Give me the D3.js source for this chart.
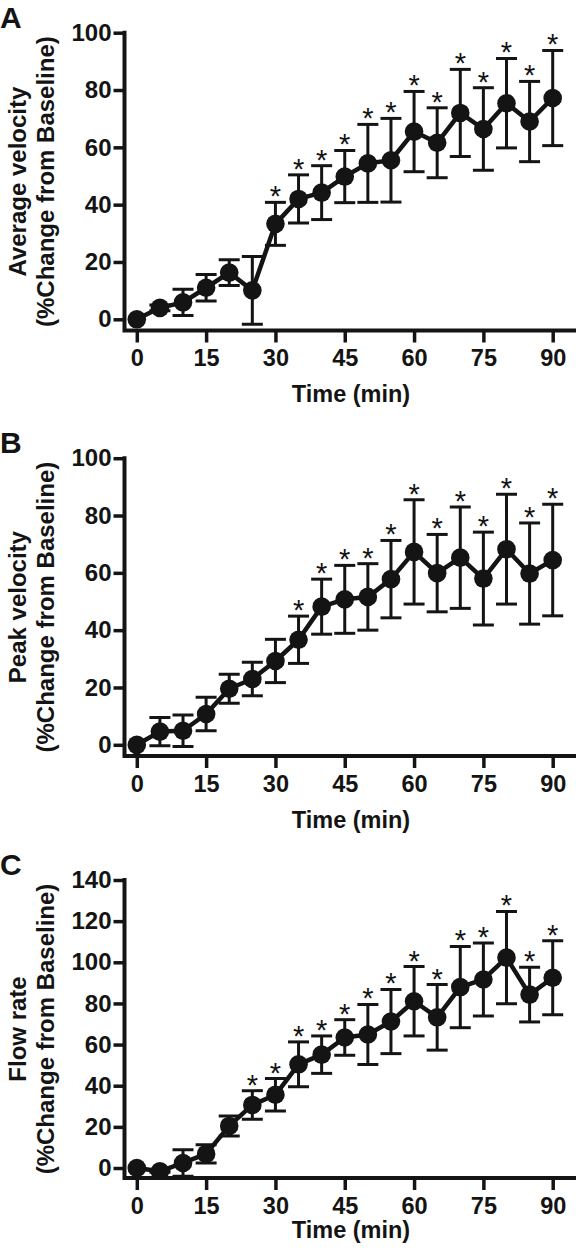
<!DOCTYPE html>
<html>
<head>
<meta charset="utf-8">
<script src="https://cdn.jsdelivr.net/npm/d3@7"></script>
<style>
  html, body { margin: 0; padding: 0; background: #fff; }
  svg { display: block; }
  text { font-family: "Liberation Sans", Arial, Helvetica, sans-serif; fill: #141414; }
</style>
</head>
<body>
<svg id="chart" width="576" height="1255"></svg>
<script>
// ---------- data ----------
const times = [0, 5, 10, 15, 20, 25, 30, 35, 40, 45, 50, 55, 60, 65, 70, 75, 80, 85, 90];
const xTicks = [0, 15, 30, 45, 60, 75, 90];

const avgMean = [0, 4, 5.9, 11, 16.3, 10.1, 33.3, 42, 44.2, 49.8, 54.4, 55.5, 65.5, 61.6, 72, 66.4, 75.4, 69, 77.2];
const avgSem  = [0, 1, 4.6, 4.6, 4.5, 11.8, 7.5, 8.4, 9.4, 9.1, 13.6, 14.6, 14, 12.2, 15.2, 14.4, 15.6, 14, 16.6];
const avgStars = [30, 35, 40, 45, 50, 55, 60, 65, 70, 75, 80, 85, 90];
const avgTicks = [0, 20, 40, 60, 80, 100];

const peakMean = [0, 4.6, 4.9, 10.75, 19.55, 22.95, 29.25, 36.65, 48.2, 50.75, 51.6, 57.8, 67.3, 59.9, 65.3, 58, 68.25, 59.75, 64.45];
const peakSem  = [0, 4.9, 5.5, 5.85, 5.05, 5.85, 7.55, 8.25, 9.6, 11.85, 11.6, 13.5, 18.2, 13.5, 17.7, 16.2, 19.15, 17.65, 19.45];
const peakStars = [35, 40, 45, 50, 55, 60, 65, 70, 75, 80, 85, 90];
const peakTicks = [0, 20, 40, 60, 80, 100];

const flowMean = [0, -1.6, 2.45, 6.85, 20.45, 30.65, 35.6, 50.4, 55.1, 63.45, 64.9, 71.2, 81.05, 73.25, 87.95, 91.65, 102.25, 84.3, 92.5];
const flowSem  = [0, 0.5, 6.45, 4.45, 4.85, 6.95, 7.9, 10.9, 9.1, 8.65, 14.6, 15.6, 16.85, 15.95, 19.75, 17.75, 22.45, 13.3, 18];
const flowStars = [25, 30, 35, 40, 45, 50, 55, 60, 65, 70, 75, 80, 85, 90];
const flowTicks = [0, 20, 40, 60, 80, 100, 120, 140];

const letters = ["A", "B", "C"];
const yLabels1 = ["Average velocity", "Peak velocity", "Flow rate"];
const yLabel2 = "(%Change from Baseline)";
const xLabel = "Time (min)";

// ---------- layout ----------
const INK = "#141414";
const yAxisX = 124.5;
const xRight = 574;
const x = d3.scaleLinear().domain([0, 90]).range([136.8, 552.7]);

const panels = [
  { letter: letters[0], mean: avgMean, sem: avgSem, stars: avgStars, ticks: avgTicks, label1: yLabels1[0],
    top: 32.7, zero: 319.3, axis: 330.5, timeY: 402 },
  { letter: letters[1], mean: peakMean, sem: peakSem, stars: peakStars, ticks: peakTicks, label1: yLabels1[1],
    top: 458.2, zero: 744.8, axis: 756, timeY: 828 },
  { letter: letters[2], mean: flowMean, sem: flowSem, stars: flowStars, ticks: flowTicks, label1: yLabels1[2],
    top: 880, zero: 1168, axis: 1178, timeY: 1238 }
];

const svg = d3.select("#chart");
const defs = svg.append("defs");

panels.forEach((p, i) => {
  const yMax = p.ticks[p.ticks.length - 1];
  const y = d3.scaleLinear().domain([0, yMax]).range([p.zero, p.top]);
  const g = svg.append("g");

  const clipId = "clip" + i;
  defs.append("clipPath").attr("id", clipId)
    .append("rect")
    .attr("x", yAxisX).attr("y", p.top - 80)
    .attr("width", 576 - yAxisX).attr("height", p.axis - (p.top - 80));

  const data = times.map((t, k) => ({ t, m: p.mean[k], s: p.sem[k] }));
  const marks = g.append("g").attr("clip-path", `url(#${clipId})`);

  // error bars
  const eb = marks.append("g").attr("stroke", INK).attr("stroke-width", 3).attr("fill", "none");
  data.filter(d => d.s > 0).forEach(d => {
    const cx = x(d.t), y1 = y(d.m + d.s), y2 = y(d.m - d.s);
    eb.append("line").attr("x1", cx).attr("x2", cx).attr("y1", y1).attr("y2", y2);
    eb.append("line").attr("x1", cx - 10.5).attr("x2", cx + 10.5).attr("y1", y1).attr("y2", y1);
    eb.append("line").attr("x1", cx - 10.5).attr("x2", cx + 10.5).attr("y1", y2).attr("y2", y2);
  });

  // connecting line
  marks.append("path")
    .datum(data)
    .attr("fill", "none")
    .attr("stroke", INK)
    .attr("stroke-width", 4.5)
    .attr("stroke-linejoin", "round")
    .attr("d", d3.line().x(d => x(d.t)).y(d => y(d.m)));

  // points
  marks.selectAll("circle").data(data).join("circle")
    .attr("cx", d => x(d.t)).attr("cy", d => y(d.m)).attr("r", 9.3)
    .attr("fill", INK);

  // significance stars
  g.selectAll("text.star").data(data.filter(d => p.stars.includes(d.t))).join("text")
    .attr("class", "star")
    .attr("x", d => x(d.t))
    .attr("y", d => y(d.m + d.s) + 4)
    .attr("text-anchor", "middle")
    .style("font-size", "29px")
    .text("*");

  // y axis
  const yAxis = g.append("g")
    .attr("transform", `translate(${yAxisX},0)`)
    .call(d3.axisLeft(y).tickValues(p.ticks).tickFormat(d3.format("d")).tickSize(11).tickPadding(2));
  yAxis.select(".domain").remove();
  yAxis.selectAll(".tick line").attr("stroke", INK).attr("stroke-width", 3.5);
  yAxis.selectAll(".tick text")
    .style("font-size", "24px").style("font-weight", "bold").attr("fill", INK);

  // x axis
  const xAxis = g.append("g")
    .attr("transform", `translate(0,${p.axis})`)
    .call(d3.axisBottom(x).tickValues(xTicks).tickFormat(d3.format("d")).tickSize(12).tickPadding(7));
  xAxis.select(".domain").remove();
  xAxis.selectAll(".tick line").attr("stroke", INK).attr("stroke-width", 3.5);
  xAxis.selectAll(".tick text")
    .style("font-size", "23.5px").style("font-weight", "bold").attr("fill", INK);

  // axis lines (L shape)
  g.append("path")
    .attr("d", `M${yAxisX},${y(yMax)} L${yAxisX},${p.axis} L${xRight},${p.axis}`)
    .attr("fill", "none").attr("stroke", INK).attr("stroke-width", 4)
    .attr("stroke-linecap", "square").attr("stroke-linejoin", "miter");

  // x label
  g.append("text")
    .attr("x", 351).attr("y", p.timeY)
    .attr("text-anchor", "middle")
    .style("font-size", "23.5px").style("font-weight", "bold")
    .text(xLabel);

  // y labels
  const cy = (y(yMax) + p.axis) / 2;
  g.append("text")
    .attr("transform", `translate(26,${cy}) rotate(-90)`)
    .attr("text-anchor", "middle")
    .style("font-size", "24px").style("font-weight", "bold")
    .text(p.label1);
  g.append("text")
    .attr("transform", `translate(54,${cy}) rotate(-90)`)
    .attr("text-anchor", "middle")
    .style("font-size", "24px").style("font-weight", "bold")
    .text(yLabel2);

  // panel letter
  g.append("text")
    .attr("x", 0).attr("y", p.top - 5)
    .style("font-size", "30px").style("font-weight", "bold")
    .text(p.letter);
});
</script>
</body>
</html>
